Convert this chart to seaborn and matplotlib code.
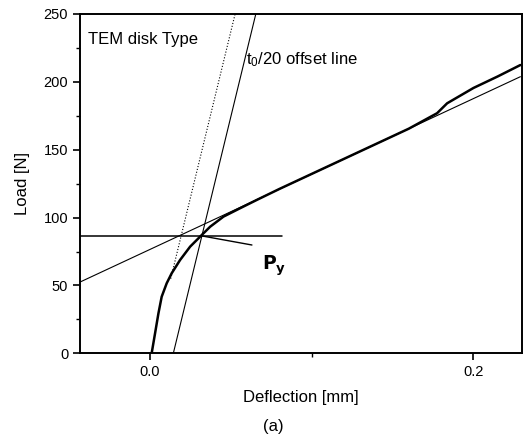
import matplotlib
matplotlib.use("Agg")
import matplotlib.pyplot as plt
import seaborn as sns
import pandas as pd
from matplotlib.ticker import MultipleLocator

# ---- data ----
curve_x = [0.001, 0.0031, 0.0052, 0.0072, 0.0103, 0.0134, 0.0186, 0.0248, 0.031,
           0.0372, 0.0454, 0.0557, 0.066, 0.08, 0.10, 0.12, 0.14, 0.16, 0.1775,
           0.1837, 0.20, 0.215, 0.229]
curve_y = [0.0, 14.7, 29.5, 41.7, 51.6, 59.0, 68.8, 78.6, 86.0,
           93.3, 100.7, 106.9, 113.0, 121.1, 132.2, 143.3, 154.4, 165.5, 176.9,
           184.2, 195.5, 204.0, 212.4]

slope_line_x = [-0.0433, 0.229]
slope_line_y = [52.5, 203.8]

elastic_line_x = [0.0128, 0.0526]
elastic_line_y = [55.0, 250.0]

offset_line_x = [0.0144, 0.0654]
offset_line_y = [0.0, 250.0]

yield_line_x = [-0.0433, 0.0817]
yield_line_y = [86.5, 86.5]

pointer_x = [0.032, 0.063]
pointer_y = [86.5, 79.8]

x_ticks = [0.0, 0.2]
x_tick_labels = ["0.0", "0.2"]
y_ticks = [0, 50, 100, 150, 200, 250]

# ---- style ----
sns.set_style("ticks")
plt.rcParams["font.family"] = ["Liberation Sans", "DejaVu Sans"]
plt.rcParams["mathtext.fontset"] = "custom"
plt.rcParams["mathtext.rm"] = "Liberation Sans"
plt.rcParams["mathtext.default"] = "regular"
plt.rcParams["text.color"] = "black"
plt.rcParams["axes.labelcolor"] = "black"

fig = plt.figure(figsize=(5.25, 4.37), dpi=100)
ax = fig.add_axes([0.1524, 0.1915, 0.8419, 0.7765])

df = pd.DataFrame({"x": curve_x, "y": curve_y})
sns.lineplot(data=df, x="x", y="y", ax=ax, sort=False, estimator=None,
             color="black", linewidth=1.8)
sns.lineplot(x=slope_line_x, y=slope_line_y, ax=ax, color="black", linewidth=0.8)
sns.lineplot(x=elastic_line_x, y=elastic_line_y, ax=ax, color="black",
             linewidth=0.8, linestyle=":")
sns.lineplot(x=offset_line_x, y=offset_line_y, ax=ax, color="black", linewidth=0.8)
sns.lineplot(x=yield_line_x, y=yield_line_y, ax=ax, color="black", linewidth=1.1)
sns.lineplot(x=pointer_x, y=pointer_y, ax=ax, color="black", linewidth=1.0)

ax.set_xlim(-0.0433, 0.230)
ax.set_ylim(0, 250)
ax.set_xticks(x_ticks)
ax.set_xticklabels(x_tick_labels)
ax.set_yticks(y_ticks)
ax.xaxis.set_minor_locator(MultipleLocator(0.1))
ax.yaxis.set_minor_locator(MultipleLocator(25))
ax.tick_params(axis="both", which="major", direction="out", length=5, width=1.2,
               labelsize=10.5, colors="black")
ax.tick_params(axis="both", which="minor", direction="out", length=3, width=1.0,
               colors="black")
for s in ax.spines.values():
    s.set_visible(True)
    s.set_linewidth(1.4)
    s.set_color("black")

ax.set_xlabel("Deflection [mm]", fontsize=12, labelpad=8)
ax.set_ylabel("Load [N]", fontsize=12, labelpad=10)

ax.text(0.018, 0.947, "TEM disk Type", transform=ax.transAxes, fontsize=12,
        va="top", ha="left")
ax.text(0.0592, 216, "t$_0$/20 offset line", fontsize=12, va="center", ha="left")
ax.text(0.0693, 61.4, r"$\mathbf{P}_\mathbf{y}$", fontsize=13.5, va="baseline",
        ha="left")
fig.text(0.52, 0.023, "(a)", fontsize=12, ha="center", va="center")

fig.savefig("out.png", dpi=100)
